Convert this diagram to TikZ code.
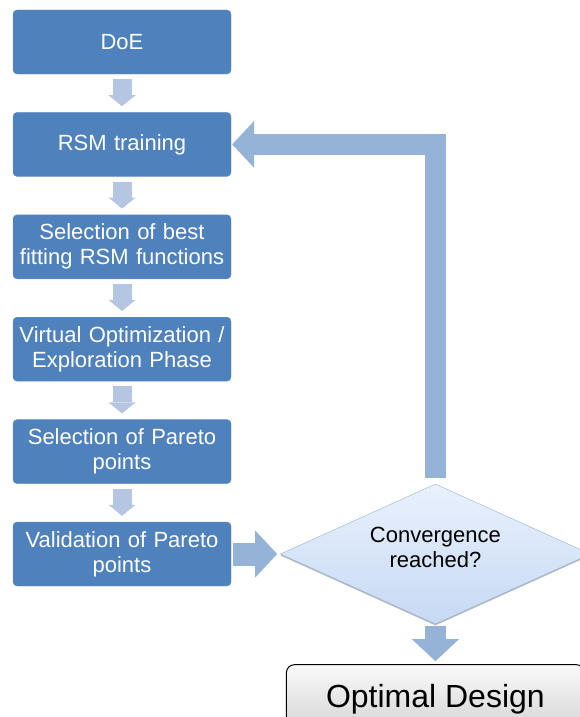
\documentclass[tikz,border=0pt]{standalone}
\usepackage{fontspec}
\setmainfont{Liberation Sans}
\usepackage{tikz}
\usetikzlibrary{positioning}
\usetikzlibrary{shapes.geometric}
\usetikzlibrary{arrows.meta}
\usetikzlibrary{shadows}
\usepackage{xcolor}

\definecolor{boxblue}{HTML}{4F81BD}
\definecolor{arrowblue}{HTML}{95B3D7}
\definecolor{arrowlight}{HTML}{B4C6E2}
\definecolor{diamtop}{HTML}{EAF1FD}
\definecolor{diambottom}{HTML}{C6D9F4}

\newcommand{\flowfont}{\fontsize{22}{25}\selectfont}
\newcommand{\optfont}{\fontsize{32}{38}\selectfont}

\begin{document}
\begin{tikzpicture}[x=1pt, y=-1pt, node distance=38pt,
  flowbox/.style={rectangle, rounded corners=4pt, fill=boxblue, draw=boxblue!85!white,
    minimum width=218pt, minimum height=64pt, text width=210pt, align=center,
    text=white, font=\flowfont, inner sep=0pt},
  decision/.style={diamond, shape aspect=2.21, minimum width=310pt, minimum height=140pt,
    inner sep=0pt, top color=diamtop, bottom color=diambottom, draw=arrowblue,
    align=center, font=\flowfont, text=black, text depth=13pt,
    drop shadow={shadow xshift=0pt, shadow yshift=-1.5pt, fill=black!55}},
  endbox/.style={rectangle, rounded corners=8pt, draw=black, line width=1pt,
    top color=gray!4, bottom color=gray!35, minimum width=298pt, minimum height=70pt,
    font=\optfont, text=black, inner sep=0pt},
  steparrow/.style={draw=arrowlight, line width=19pt,
    -{Triangle[width=27pt, length=11pt, line width=0pt]}},
  bigarrow/.style={draw=arrowblue, line width=21pt,
    -{Triangle[width=47pt, length=22pt, line width=0pt]}}
]
\useasboundingbox (0,0) rectangle (580,717);
\clip (0,0) rectangle (580,717);

% process boxes
\node[flowbox] (doe) at (122,42) {DoE};
\node[flowbox, below=of doe] (rsm) {RSM training};
\node[flowbox, below=of rsm] (fit) {Selection of best\\fitting RSM functions};
\node[flowbox, below=of fit] (virt) {Virtual Optimization /\\Exploration Phase};
\node[flowbox, below=of virt] (pareto) {Selection of Pareto\\points};
\node[flowbox, below=of pareto] (val) {Validation of Pareto\\points};

% decision and end
\node[decision, right=49pt of val] (conv) {Convergence\\reached?};
\node[endbox, below=40pt of conv] (opt) {Optimal Design};

% small arrows between boxes
\draw[steparrow] ([yshift=-5pt]doe.south) -- ([yshift=6pt]rsm.north);
\draw[steparrow] ([yshift=-5pt]rsm.south) -- ([yshift=6pt]fit.north);
\draw[steparrow] ([yshift=-5pt]fit.south) -- ([yshift=6pt]virt.north);
\draw[steparrow] ([yshift=-5pt]virt.south) -- ([yshift=6pt]pareto.north);
\draw[steparrow] ([yshift=-5pt]pareto.south) -- ([yshift=6pt]val.north);

% big arrows
\draw[bigarrow, line width=23pt] ([xshift=2pt]val.east) -- ([xshift=-3pt]conv.west);
\draw[bigarrow] ([yshift=6pt]conv.north) |- ([xshift=1pt]rsm.east);
\draw[bigarrow] ([yshift=-2pt]conv.south) -- ([yshift=3pt]opt.north);

\end{tikzpicture}
\end{document}
